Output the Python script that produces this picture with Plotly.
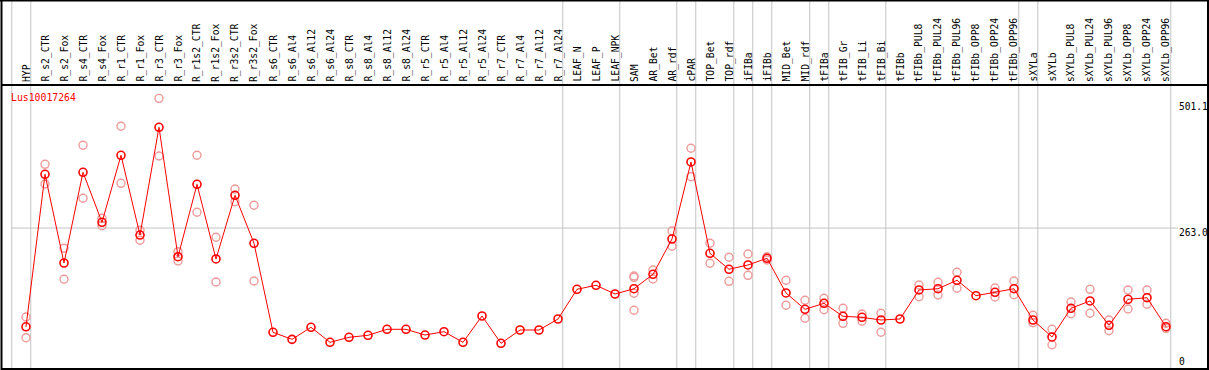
import plotly.graph_objects as go

categories = ["HYP", "R_s2_CTR", "R_s2_Fox", "R_s4_CTR", "R_s4_Fox", "R_r1_CTR", "R_r1_Fox",
              "R_r3_CTR", "R_r3_Fox", "R_r1s2_CTR", "R_r1s2_Fox", "R_r3s2_CTR", "R_r3s2_Fox",
              "R_s6_CTR", "R_s6_Al4", "R_s6_Al12", "R_s6_Al24", "R_s8_CTR", "R_s8_Al4",
              "R_s8_Al12", "R_s8_Al24", "R_r5_CTR", "R_r5_Al4", "R_r5_Al12", "R_r5_Al24",
              "R_r7_CTR", "R_r7_Al4", "R_r7_Al12", "R_r7_Al24", "LEAF_N", "LEAF_P", "LEAF_NPK",
              "SAM", "AR_Bet", "AR_rdf", "cPAR", "TOP_Bet", "TOP_rdf", "iFIBa", "iFIBb",
              "MID_Bet", "MID_rdf", "tFIBa", "tFIB_Gr", "tFIB_Li", "tFIB_Bi", "tFIBb",
              "tFIBb_PUL8", "tFIBb_PUL24", "tFIBb_PUL96", "tFIBb_OPP8", "tFIBb_OPP24",
              "tFIBb_OPP96", "sXYLa", "sXYLb", "sXYLb_PUL8", "sXYLb_PUL24", "sXYLb_PUL96",
              "sXYLb_OPP8", "sXYLb_OPP24", "sXYLb_OPP96"]

mean_values = [81.7, 361.7, 198.8, 365.3, 273.5, 396.6, 250.2, 448.0, 210.4, 343.3, 206.2, 323.1, 235.0,
               71.6, 58.7, 80.8, 53.2, 62.4, 66.1, 77.1, 77.1, 66.6, 72.7, 53.2, 101.5,
               51.4, 75.8, 75.8, 96.0, 150.5, 157.9, 141.9,
               151.6, 178.1, 242.9, 384.3, 216.6, 187.3, 195.2, 207.5,
               143.8, 113.8, 124.8, 101.0, 99.1, 94.2, 96.0,
               149.3, 151.6, 167.1, 138.8, 145.0, 151.6,
               94.2, 63.0, 115.7, 129.1, 84.5, 132.2, 135.1, 81.9]

rep_1 = [99.7, 380.0, 225.8, 414.9, 280.9, 449.8, 258.9, 501.1, 219.6, 396.6, 246.0, 334.7, 304.8,
         None, None, None, None, None, None, None, None, None, None, None, None,
         None, None, None, None, None, None, None,
         175.0, 186.0, 257.6, 409.4, 235.0, 209.3, 215.4, 210.4,
         167.1, 130.4, 134.0, 115.7, 105.2, 106.5, None,
         158.4, 163.4, 181.8, None, 152.9, 165.8,
         102.8, 77.1, 127.2, 150.5, 94.2, 149.3, 149.3, 88.1]

rep_2 = [61.7, 343.9, 168.9, 317.6, 267.3, 345.1, 240.5, 395.3, 202.5, 291.9, 163.9, 311.4, 165.8,
         None, None, None, None, None, None, None, None, None, None, None, None,
         None, None, None, None, None, None, None,
         143.2, 169.5, 229.5, 357.3, 198.3, 165.2, 176.2, 204.3,
         121.2, 97.3, 113.1, 88.1, 91.8, 71.6, None,
         137.0, 140.1, 152.4, None, 136.4, 140.6,
         89.2, 48.8, 105.7, 106.5, 74.5, 114.4, 123.0, 78.9]

rep_3 = [None] * 32 + [112.0] + [None] * 28
rep_4 = [None] * 32 + [172.5] + [None] * 28

group_ends = [-1, 0, 28, 31, 34, 35, 37, 38, 39, 41, 42, 45, 52, 53, 60]

gene_name = "Lus10017264"
axis_labels = ["501.1", "263.0", "0"]
grid_value = 263.0

W, H = 1209, 370
X0, DX = 26.0, 19.0          # pixel of first category, spacing
Y_ZERO, PX_PER_UNIT = 371.3, 0.5447

def px_x(p):
    return p / W

def px_y(p):
    return 1 - p / H

x_range = [(0 - X0) / DX, (W - X0) / DX]
y_range = [(Y_ZERO - H) / PX_PER_UNIT, Y_ZERO / PX_PER_UNIT]

xs = list(range(len(categories)))
fig = go.Figure()

rep_color = "#ee9a9a"
for reps in (rep_1, rep_2, rep_3, rep_4):
    fig.add_trace(go.Scatter(
        x=xs, y=reps, mode="markers",
        marker=dict(symbol="circle-open", size=8, color=rep_color, line=dict(width=1.4, color=rep_color)),
        hoverinfo="skip", showlegend=False))

fig.add_trace(go.Scatter(
    x=xs, y=mean_values, mode="lines+markers",
    line=dict(color="#ff0000", width=1),
    marker=dict(symbol="circle-open", size=8, color="#ff0000", line=dict(width=1.6, color="#ff0000")),
    showlegend=False))

shapes = []
gray = "#c4c4c4"
for g in group_ends:
    shapes.append(dict(type="line", xref="x", yref="paper", x0=g + 0.25, x1=g + 0.25,
                       y0=px_y(369), y1=1, line=dict(color=gray, width=1), layer="below"))
shapes.append(dict(type="line", xref="paper", yref="y", x0=px_x(11), x1=px_x(1178),
                   y0=grid_value, y1=grid_value, line=dict(color=gray, width=1), layer="below"))
blk = dict(color="#000000", width=2)
shapes.append(dict(type="line", xref="paper", yref="paper", x0=0, x1=1, y0=px_y(0.5), y1=px_y(0.5), line=blk))
shapes.append(dict(type="line", xref="paper", yref="paper", x0=px_x(1), x1=px_x(1209), y0=px_y(85), y1=px_y(85), line=blk))
shapes.append(dict(type="line", xref="paper", yref="paper", x0=px_x(1), x1=px_x(1209), y0=px_y(369), y1=px_y(369), line=blk))
shapes.append(dict(type="line", xref="paper", yref="paper", x0=px_x(1.5), x1=px_x(1.5), y0=0, y1=1, line=blk))
shapes.append(dict(type="line", xref="paper", yref="paper", x0=px_x(1208), x1=px_x(1208), y0=0, y1=1, line=blk))

font_family = "DejaVu Sans Mono"
annotations = []
for i, c in enumerate(categories):
    annotations.append(dict(x=i, xref="x", y=px_y(84), yref="paper", text=c, textangle=-90,
                            showarrow=False, xanchor="center", yanchor="bottom",
                            font=dict(family=font_family, size=9.7, color="#000000")))
annotations.append(dict(x=px_x(9), xref="paper", y=px_y(97.5), yref="paper", text=gene_name,
                        showarrow=False, xanchor="left", yanchor="middle",
                        font=dict(family=font_family, size=9.8, color="#ff0000")))
for lab, py in zip(axis_labels, [106.7, 232, 361.7]):
    annotations.append(dict(x=px_x(1177), xref="paper", y=px_y(py), yref="paper", text=lab,
                            showarrow=False, xanchor="left", yanchor="middle",
                            font=dict(family=font_family, size=9.6, color="#000000")))

fig.update_layout(
    width=W, height=H,
    margin=dict(l=0, r=0, t=0, b=0, pad=0),
    paper_bgcolor="#ffffff", plot_bgcolor="#ffffff",
    xaxis=dict(range=x_range, visible=False, showgrid=False, zeroline=False),
    yaxis=dict(range=y_range, visible=False, showgrid=False, zeroline=False),
    shapes=shapes, annotations=annotations,
)

fig.write_html("out.html", config={"displayModeBar": False},
               post_script="document.body.style.margin='0px';document.body.style.overflow='hidden';")
